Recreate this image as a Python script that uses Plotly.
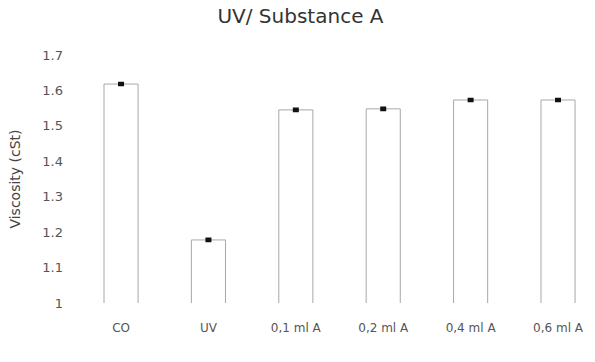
import plotly.graph_objects as go

categories = ["CO", "UV", "0,1 ml A", "0,2 ml A", "0,4 ml A", "0,6 ml A"]
viscosity = [1.618, 1.178, 1.545, 1.548, 1.573, 1.573]
errors = [0.003, 0.003, 0.003, 0.003, 0.003, 0.003]
y_ticks = [1, 1.1, 1.2, 1.3, 1.4, 1.5, 1.6, 1.7]
y_tick_text = ["1", "1.1", "1.2", "1.3", "1.4", "1.5", "1.6", "1.7"]

fig = go.Figure(go.Bar(
    x=categories, y=viscosity,
    marker=dict(color="white", line=dict(color="#a8a8a8", width=1)),
    error_y=dict(type="data", array=errors, visible=True, color="#111", thickness=2.5, width=3),
    width=0.39,
))

fig.update_layout(
    width=595, height=362,
    margin=dict(l=70, r=5, t=55, b=59),
    paper_bgcolor="white", plot_bgcolor="white",
    font=dict(family="DejaVu Sans", color="#444", size=12),
    title=dict(text="UV/ Substance A", x=0.505, xref="container", y=0.955, yref="container",
               xanchor="center", yanchor="middle", font=dict(size=20, color="#333")),
    showlegend=False,
)
fig.update_xaxes(range=[-0.584, 5.366], automargin=False, showgrid=False, zeroline=False,
                 showline=False, ticks="", ticklabelstandoff=16,
                 tickfont=dict(size=12, color="#555"))
fig.update_yaxes(range=[1, 1.7], tickvals=y_ticks, ticktext=y_tick_text, automargin=False,
                 showgrid=False, zeroline=False, showline=False, ticks="",
                 ticklabelstandoff=6, tickfont=dict(size=13, color="#555"),
                 title=dict(text="Viscosity (cSt)", font=dict(size=14, color="#444"), standoff=18))

fig.write_html("out.html", config={"displayModeBar": False},
               post_script="document.body.style.margin='0';document.body.style.overflow='hidden';")
